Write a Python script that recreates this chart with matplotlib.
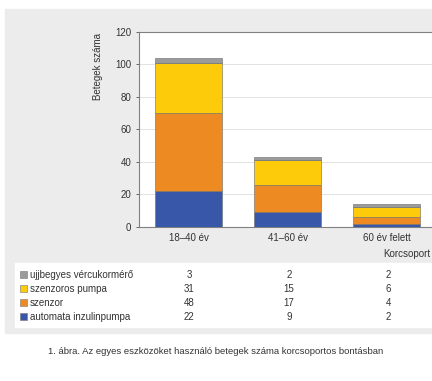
import matplotlib.pyplot as plt
from matplotlib.patches import Rectangle

# age groups and device counts
groups = ["18–40 év", "41–60 év", "60 év felett"]
series_names = ["automata inzulinpumpa", "szenzor", "szenzoros pumpa",
                "ujjbegyes vércukormérő"]
automata = [22, 9, 2]
szenzor = [48, 17, 4]
szenzoros_pumpa = [31, 15, 6]
ujjbegyes = [3, 2, 2]
colors = ["#3857a8", "#ee8a22", "#fdcb0a", "#9b9b9b"]

W, H = 432, 381
plt.rcParams['font.family'] = ['Liberation Sans', 'DejaVu Sans']
fig = plt.figure(figsize=(W / 100, H / 100), dpi=100)


def fx(x):
    return x / W


def fy(y):
    return 1 - y / H


# grey background panel and white table box
fig.patches.append(Rectangle((fx(5), fy(333)), fx(440), fy(9) - fy(333),
                             transform=fig.transFigure, color="#ececec", zorder=0))
fig.patches.append(Rectangle((fx(15), fy(327)), fx(440), fy(263) - fy(327),
                             transform=fig.transFigure, color="white", zorder=0.5))

ax = fig.add_axes([fx(139), fy(227), fx(436) - fx(139), fy(31.7) - fy(227)])
ax.set_zorder(2)
ax.set_facecolor("white")

series = [automata, szenzor, szenzoros_pumpa, ujjbegyes]
x = list(range(len(groups)))
bottom = [0] * len(groups)
for vals, c, name in zip(series, colors, series_names):
    ax.bar(x, vals, width=0.68, bottom=bottom, color=c, edgecolor="#6a6a6a",
           linewidth=0.4, label=name, zorder=3)
    bottom = [b + v for b, v in zip(bottom, vals)]

ax.set_xlim(-0.5, 2.5)
ax.set_ylim(0, 120)
ax.set_yticks(range(0, 121, 20))
ax.set_xticks(x)
ax.set_xticklabels(groups)
ax.tick_params(axis='both', labelsize=7, colors="#333333", length=2, width=0.5)
ax.tick_params(axis='x', length=0, pad=4)
ax.grid(axis='y', color="#dddddd", linewidth=0.6, zorder=0)
for s in ["left", "bottom", "top"]:
    ax.spines[s].set_color("#808080")
    ax.spines[s].set_linewidth(0.8)
ax.spines["right"].set_visible(False)
ax.set_ylabel("Betegek száma", fontsize=7, color="#333333")
ax.yaxis.set_label_coords(-0.12, 0.82)
fig.text(fx(430), fy(254), "Korcsoport", fontsize=7, color="#333333",
         ha="right", va="center", zorder=3)

# data table under the chart
row_y = [275, 289, 303, 317]
col_x = [189, 289, 388]
for i, (vals, c, name) in enumerate(zip(series[::-1], colors[::-1],
                                        series_names[::-1])):
    y = row_y[i]
    fig.patches.append(Rectangle((fx(20), fy(y + 3)), fx(7), fy(y - 4) - fy(y + 3),
                                 transform=fig.transFigure, facecolor=c,
                                 edgecolor="#777777", linewidth=0.4, zorder=1))
    fig.text(fx(30), fy(y), name, fontsize=7, color="#333333",
             ha="left", va="center", zorder=3)
    for cx, v in zip(col_x, vals):
        fig.text(fx(cx), fy(y), str(v), fontsize=7, color="#333333",
                 ha="center", va="center", zorder=3)

fig.text(fx(216), fy(352),
         "1. ábra. Az egyes eszközöket használó betegek száma korcsoportos bontásban",
         fontsize=6.8, color="#333333", ha="center", va="center", zorder=3)

fig.savefig("out.png", dpi=100, facecolor="white")
